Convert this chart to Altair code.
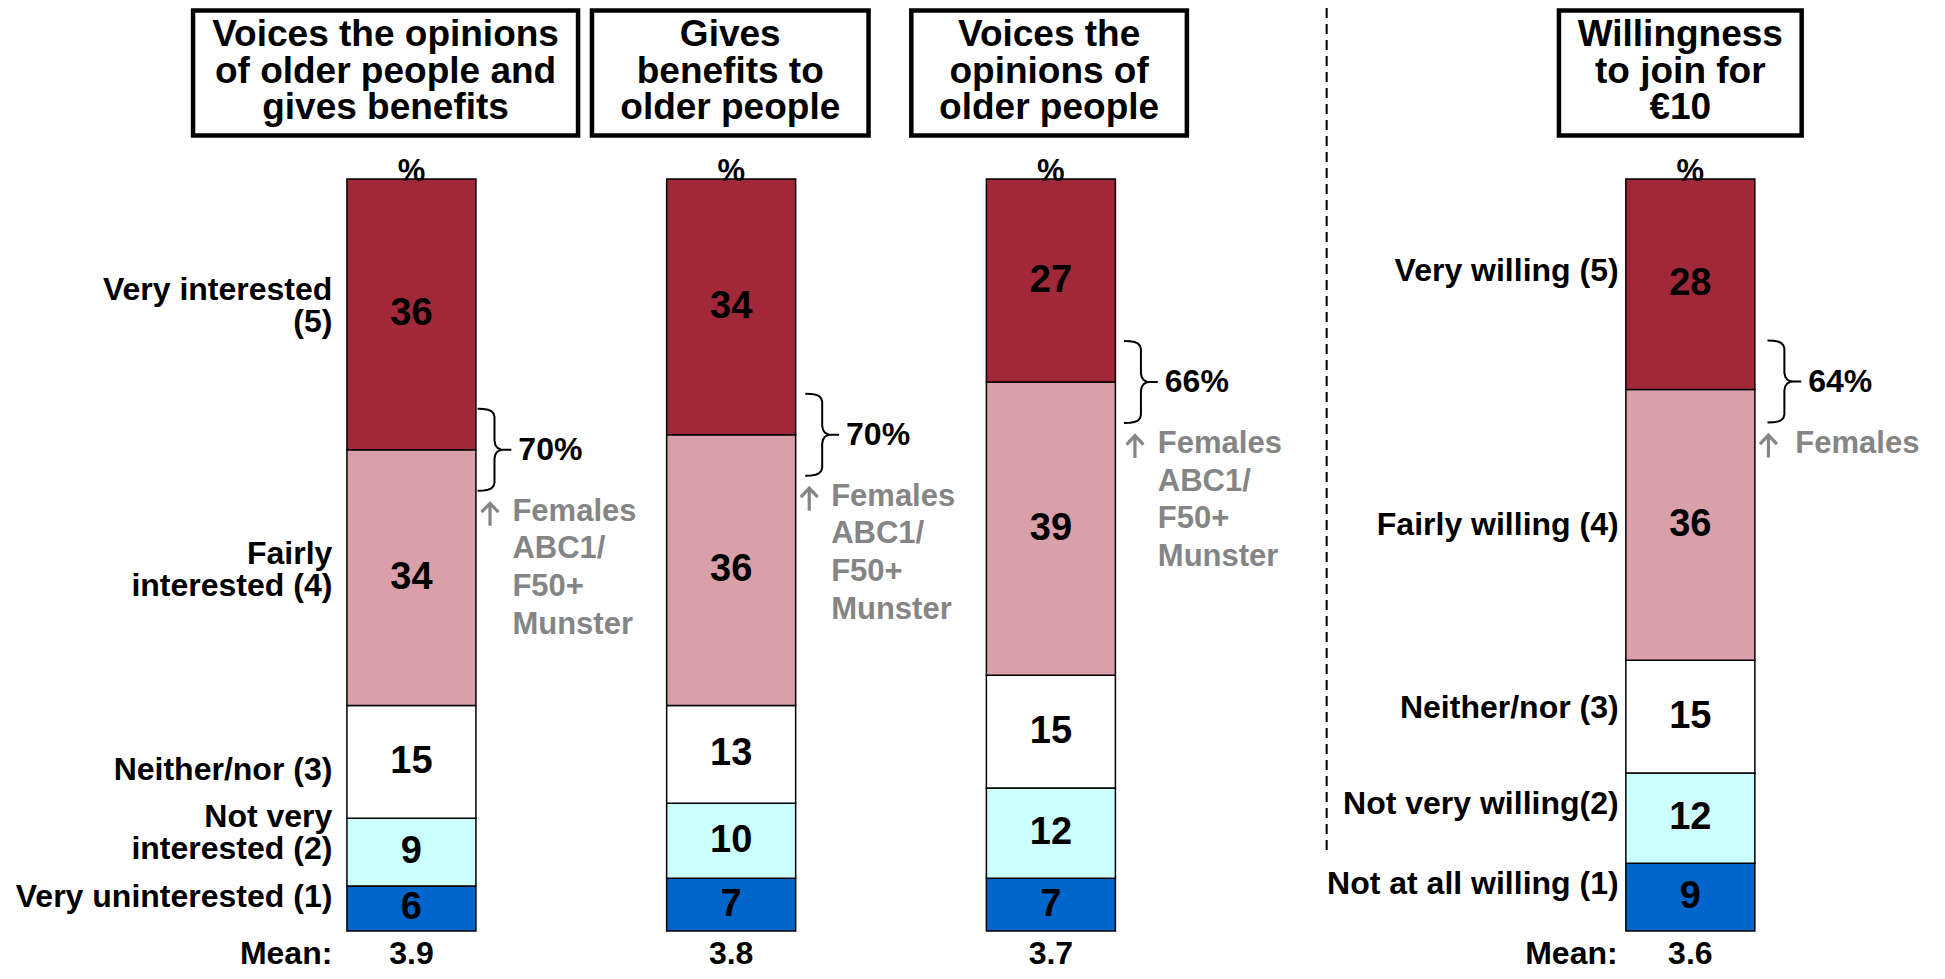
import altair as alt
import pandas as pd

# ---------------- data ----------------
panel_titles = [
    "Voices the opinions\nof older people and\ngives benefits",
    "Gives\nbenefits to\nolder people",
    "Voices the\nopinions of\nolder people",
    "Willingness\nto join for\n€10",
]
level5 = [36, 34, 27, 28]   # Very interested / Very willing (5)
level4 = [34, 36, 39, 36]   # Fairly (4)
level3 = [15, 13, 15, 15]   # Neither/nor (3)
level2 = [9, 10, 12, 12]    # Not very (2)
level1 = [6, 7, 7, 9]       # Very uninterested / Not at all willing (1)
mean_scores = ["3.9", "3.8", "3.7", "3.6"]
top_two_box = ["70%", "70%", "66%", "64%"]
subgroup_notes = [
    "Females\nABC1/\nF50+\nMunster",
    "Females\nABC1/\nF50+\nMunster",
    "Females\nABC1/\nF50+\nMunster",
    "Females",
]
interest_labels = ["Very interested\n(5)", "Fairly\ninterested (4)", "Neither/nor (3)",
                   "Not very\ninterested (2)", "Very uninterested (1)"]
willing_labels = ["Very willing (5)", "Fairly willing (4)", "Neither/nor (3)",
                  "Not very willing(2)", "Not at all willing (1)"]

# ---------------- layout / style ----------------
W, H, PAGE = 1929, 963, 8
X0, SLOT_PX = 408.5, 321.4
Y0, PCT_PX = 931.0, 7.52
SLOTS = [0, 1, 2, 4]
BAR_W = 129
FONT = "Liberation Sans"
GREY = "#858585"
level_colors = ["#A12838", "#D9A0A9", "#FFFFFF", "#CCFFFF", "#0066CC"]
box_edges = [(189, 576), (590, 868), (911, 1188), (1562, 1806)]
brace_gap = [2, 10, 9, 13]
brace_nudge = [0, 0, 0, -8]
note_off = [37, 36, 43, 41]
arrow_off = [14.5, 14, 20, 14]
lab1_nudge = [-8, -8, 8, -19, -11]
lab4_nudge = [-13, 0, -9, -14, -13]
LAB_LH = 32
TITLE_LH = 36.7


def sx(px):
    return (px - X0) / SLOT_PX


def sy(py):
    return (Y0 - py) / PCT_PX


def px_y(v):
    return Y0 - PCT_PX * v


xs = alt.Scale(domain=[sx(PAGE), sx(PAGE + W)], nice=False, zero=False)
ys = alt.Scale(domain=[sy(PAGE + H), sy(PAGE)], nice=False, zero=False)
X = lambda f: alt.X(f, type="quantitative", scale=xs, axis=None)
Y = lambda f: alt.Y(f, type="quantitative", scale=ys, axis=None)

# ---------------- stacked bars ----------------
rows = []
for p, slot in enumerate(SLOTS):
    base = 0
    for lv, vals in zip([1, 2, 3, 4, 5], [level1, level2, level3, level4, level5]):
        v = vals[p]
        rows.append(dict(panel=p, slot=slot, level=lv, value=v, lo=base, hi=base + v,
                         mid=base + v / 2))
        base += v
bars = pd.DataFrame(rows)

bar_layer = alt.Chart(bars).mark_bar(size=BAR_W, stroke="black", strokeWidth=1.5).encode(
    x=X("slot"), y=Y("lo"), y2="hi",
    color=alt.Color("level:O", scale=alt.Scale(domain=[5, 4, 3, 2, 1], range=level_colors),
                    legend=None),
)
value_layer = alt.Chart(bars).mark_text(font=FONT, fontWeight="bold", fontSize=38,
                                        color="black", baseline="middle").encode(
    x=X("slot"), y=Y("mid"), text="value:Q")

# ---------------- titles ----------------
tdf = pd.DataFrame({
    "x1": [sx(a) for a, b in box_edges], "x2": [sx(b) for a, b in box_edges],
    "xc": [sx((a + b) / 2) for a, b in box_edges],
    "y1": [sy(10.5)] * 4, "y2": [sy(135.5)] * 4, "yt": [sy(46)] * 4,
    "title": panel_titles,
})
box_layer = alt.Chart(tdf).mark_rect(fill="white", stroke="black", strokeWidth=4.5).encode(
    x=X("x1"), x2="x2", y=Y("y1"), y2="y2")
title_layer = alt.Chart(tdf).mark_text(font=FONT, fontWeight="bold", fontSize=37,
                                       lineHeight=TITLE_LH, lineBreak="\n",
                                       baseline="alphabetic",
                                       align="center", color="black").encode(
    x=X("xc"), y=Y("yt"), text="title:N")

pdf = pd.DataFrame({"x": SLOTS, "y": [sy(181)] * 4, "t": ["%"] * 4})
pct_layer = alt.Chart(pdf).mark_text(font=FONT, fontWeight="bold", fontSize=31,
                                     baseline="alphabetic", align="center").encode(
    x=X("x"), y=Y("y"), text="t:N")

# ---------------- category labels ----------------
lab_rows = []
mids1 = bars[bars.panel == 0].sort_values("level", ascending=False)["mid"].tolist()
mids4 = bars[bars.panel == 3].sort_values("level", ascending=False)["mid"].tolist()
for labs, mids, nudges, xr in [(interest_labels, mids1, lab1_nudge, 329),
                               (willing_labels, mids4, lab4_nudge, 1622)]:
    for lab, m, n in zip(labs, mids, nudges):
        extra = lab.count("\n") * LAB_LH / 2  # first line sits above the block centre
        lab_rows.append(dict(x=sx(xr), y=sy(px_y(m) + n - extra), t=lab))
label_layer = alt.Chart(pd.DataFrame(lab_rows)).mark_text(
    font=FONT, fontWeight="bold", fontSize=32, lineHeight=LAB_LH, lineBreak="\n",
    align="right", baseline="middle", color="black").encode(
    x=X("x"), y=Y("y"), text="t:N")

# ---------------- mean row ----------------
MEAN_Y = 964
mean_rows = [dict(x=sx(329), y=sy(MEAN_Y), t="Mean:", a="r"),
             dict(x=sx(1621), y=sy(MEAN_Y), t="Mean:", a="r")]
mean_rows += [dict(x=s, y=sy(MEAN_Y), t=m, a="c") for s, m in zip(SLOTS, mean_scores)]
mdf = pd.DataFrame(mean_rows)
mean_r = alt.Chart(mdf[mdf.a == "r"]).mark_text(font=FONT, fontWeight="bold", fontSize=32,
                                               align="right", baseline="alphabetic").encode(
    x=X("x"), y=Y("y"), text="t:N")
mean_c = alt.Chart(mdf[mdf.a == "c"]).mark_text(font=FONT, fontWeight="bold", fontSize=32,
                                               align="center", baseline="alphabetic").encode(
    x=X("x"), y=Y("y"), text="t:N")

# ---------------- braces & notes ----------------
half = [(0, -41), (6, -40.8), (10.5, -40), (13.8, -38.6), (16, -36.3), (17, -33),
        (17, -9), (17.8, -5), (19.8, -2), (23, -0.3), (26, 0), (34, 0)]
shape = half + [(26, 0)] + [(dx, -dy) for dx, dy in reversed(half[:-2])]
arrow_shape = [[(0, 11), (0, -11)], [(-8.5, -2.5), (0, -11.5), (8.5, -2.5)]]
brace_rows, tb_rows, note_rows, arrow_rows = [], [], [], []
for p, slot in enumerate(SLOTS):
    bar_right = X0 + SLOT_PX * slot + BAR_W / 2
    left = bar_right + brace_gap[p]
    cy = px_y(100 - level5[p]) + brace_nudge[p]
    for i, (dx, dy) in enumerate(shape):
        brace_rows.append(dict(panel=p, i=i, x=sx(left + dx), y=sy(cy + dy)))
    tb_rows.append(dict(x=sx(left + 41), y=sy(cy), t=top_two_box[p]))
    base = cy + 41 + 30
    note_rows.append(dict(x=sx(bar_right + note_off[p]), y=sy(base), t=subgroup_notes[p]))
    ax, ay = bar_right + arrow_off[p], base - 6
    for k, seg in enumerate(arrow_shape):
        for i, (dx, dy) in enumerate(seg):
            arrow_rows.append(dict(g=f"{p}-{k}", i=i, x=sx(ax + dx), y=sy(ay + dy)))

brace_layer = alt.Chart(pd.DataFrame(brace_rows)).mark_line(
    color="black", strokeWidth=2).encode(
    x=X("x"), y=Y("y"), detail="panel:N", order="i:Q")
tb_layer = alt.Chart(pd.DataFrame(tb_rows)).mark_text(
    font=FONT, fontWeight="bold", fontSize=32, align="left", baseline="middle").encode(
    x=X("x"), y=Y("y"), text="t:N")
note_layer = alt.Chart(pd.DataFrame(note_rows)).mark_text(
    font=FONT, fontWeight="bold", fontSize=31, lineHeight=37.7, lineBreak="\n",
    align="left", baseline="alphabetic", color=GREY).encode(
    x=X("x"), y=Y("y"), text="t:N")
arrow_layer = alt.Chart(pd.DataFrame(arrow_rows)).mark_line(
    color=GREY, strokeWidth=3.2).encode(
    x=X("x"), y=Y("y"), detail="g:N", order="i:Q")

# ---------------- dashed divider ----------------
div = pd.DataFrame({"x": [sx(1328.5)], "y": [sy(PAGE)], "y2": [sy(850)]})
div_layer = alt.Chart(div).mark_rule(color="black", strokeWidth=2,
                                     strokeDash=[10, 6]).encode(
    x=X("x"), y=Y("y"), y2="y2")

chart = alt.layer(
    div_layer, bar_layer, value_layer, box_layer, title_layer, pct_layer,
    label_layer, mean_r, mean_c, brace_layer, tb_layer, note_layer, arrow_layer,
).properties(
    width=W, height=H, autosize=alt.AutoSizeParams(type="none"), padding=0,
).configure_view(stroke="transparent")

chart.save("out.html", embed_options={"renderer": "svg", "actions": False})
